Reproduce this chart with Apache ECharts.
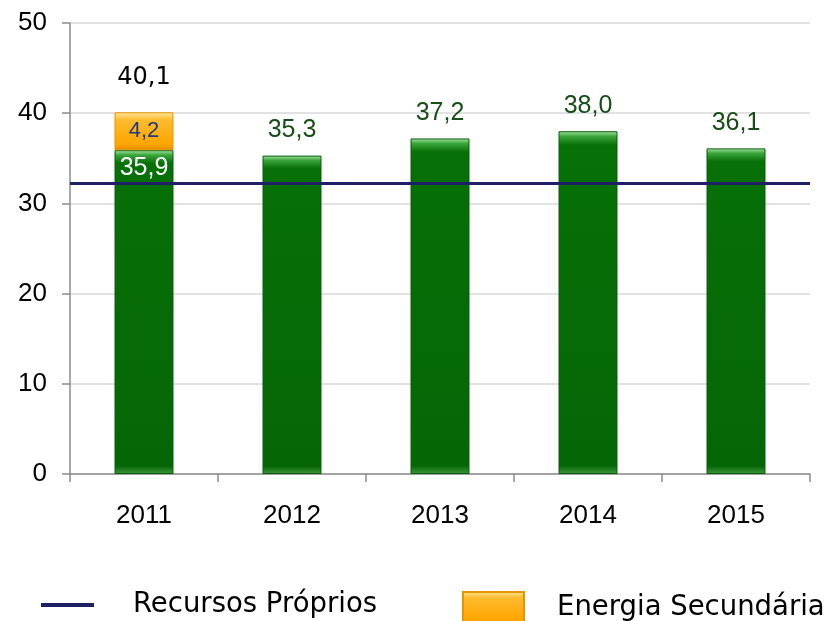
<!DOCTYPE html>
<html><head><meta charset="utf-8">
<script src="https://cdn.jsdelivr.net/npm/echarts@6/dist/echarts.min.js"></script>
<style>html,body{margin:0;padding:0;background:#fff}#c{width:828px;height:621px}</style>
</head><body><div id="c"></div>
<script>
var categories = ['2011','2012','2013','2014','2015'];
var recursosProprios = [35.9, 35.3, 37.2, 38.0, 36.1];
var energiaSecundaria = [4.2, null, null, null, null];
var totals = [40.1, null, null, null, null];
var linhaRecursos = [32.2];
var yTicks = {min: 0, max: 50, interval: 10};

function fmt(v){ return v.toFixed(1).replace('.', ','); }

var chart = echarts.init(document.getElementById('c'));
var greenGrad = new echarts.graphic.LinearGradient(0,0,0,1,[
  {offset:0, color:'#a8e6a8'},{offset:0.015, color:'#3aa63a'},{offset:0.04, color:'#077007'},{offset:0.975, color:'#056605'},{offset:1, color:'#3e963e'}]);
var orangeGrad = new echarts.graphic.LinearGradient(0,0,0,1,[
  {offset:0, color:'#ffe9a0'},{offset:0.2, color:'#ffbb2e'},{offset:0.85, color:'#ffa500'},{offset:1, color:'#e08a00'}]);

var greenData = recursosProprios.map(function(v,i){
  if (energiaSecundaria[i] != null) {
    return {value:v, label:{show:true, position:'insideTop', color:'#ffffff', distance:5}};
  }
  return {value:v};
});

chart.setOption({
  animation:false,
  grid:{left:70, right:18, top:23, bottom:147},
  legend:[
    {left:41, top:591, padding:0, data:['Recursos Próprios'], icon:'rect', itemWidth:53, itemHeight:4,
     textStyle:{fontFamily:'DejaVu Sans', fontSize:27.5, color:'#000', padding:[0,0,0,34]}},
    {left:462, top:591, padding:0, data:['Energia Secundária'], icon:'rect', itemWidth:61, itemHeight:32,
     textStyle:{fontFamily:'DejaVu Sans', fontSize:27.5, color:'#000', padding:[0,0,0,28]}}
  ],
  xAxis:{type:'category', data:categories,
    axisLine:{lineStyle:{color:'#8c8c8c', width:1.5}},
    axisTick:{show:true, length:8, lineStyle:{color:'#8c8c8c', width:1.5}},
    axisLabel:{color:'#000', fontFamily:'Arial', fontSize:26, margin:29}},
  yAxis:{type:'value', min:yTicks.min, max:yTicks.max, interval:yTicks.interval,
    axisLine:{show:true, lineStyle:{color:'#8c8c8c', width:1.5}},
    axisTick:{show:true, length:8, lineStyle:{color:'#8c8c8c', width:1.5}},
    splitLine:{lineStyle:{color:'#d9d9d9', width:1.5}},
    axisLabel:{color:'#000', fontFamily:'Arial', fontSize:26, margin:23}},
  series:[
    {name:'Recursos Próprios', type:'line', data:[], color:'#1f1f66',
     itemStyle:{color:'#1f1f66'}, lineStyle:{color:'#1f1f66'},
     markLine:{silent:true, symbol:'none', label:{show:false},
       lineStyle:{color:'#1f1f66', width:3, type:'solid'},
       data:[{yAxis:linhaRecursos[0]}]}},
    {name:'Recursos', type:'bar', stack:'s', data:greenData, barWidth:59,
     itemStyle:{color:greenGrad, borderColor:'#0b5e0b', borderWidth:1},
     label:{show:true, position:'top', color:'#174d17', fontFamily:'Arial', fontSize:25,
       distance:13, formatter:function(p){return fmt(p.value);}}, z:3},
    {name:'Energia Secundária', type:'bar', stack:'s', data:energiaSecundaria, barWidth:59,
     itemStyle:{color:orangeGrad, borderColor:'#e69500', borderWidth:1},
     label:{show:true, position:'inside', color:'#1f3a7a', fontFamily:'Arial', fontSize:22,
       formatter:function(p){return p.value==null?'':fmt(p.value);}}, z:3},
    {name:'Total', type:'bar', stack:'s', barWidth:59,
     data:totals.map(function(t){return t==null?null:0;}),
     itemStyle:{color:'transparent'},
     label:{show:true, position:'top', distance:23, color:'#000', fontFamily:'DejaVu Sans', fontSize:24,
       formatter:function(p){var t=totals[p.dataIndex]; return t==null?'':fmt(t);}}, z:3}
  ]
});
</script></body></html>
